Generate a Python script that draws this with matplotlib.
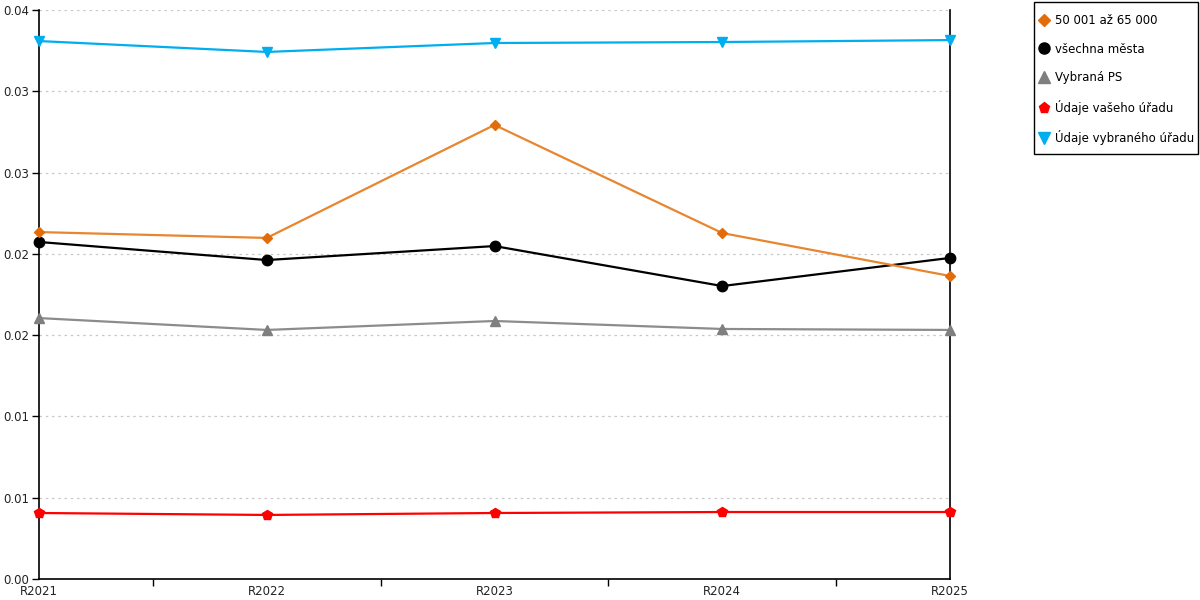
import matplotlib
matplotlib.use("Agg")
import matplotlib.pyplot as plt
from matplotlib.lines import Line2D
from matplotlib.patches import Rectangle
import numpy as np

categories = ["R2021", "R2022", "R2023", "R2024", "R2025"]
s_50001 = [0.02134, 0.02098, 0.02793, 0.02128, 0.01864]
s_vsechna = [0.02073, 0.01962, 0.02048, 0.01802, 0.01975]
s_ps = [0.01605, 0.01532, 0.01587, 0.01538, 0.01532]
s_vas = [0.00406, 0.00394, 0.00406, 0.00412, 0.00412]
s_vybrany = [0.03309, 0.03242, 0.03297, 0.03303, 0.03315]

names = ["50 001 až 65 000", "všechna města", "Vybraná PS", "Údaje vašeho úřadu", "Údaje vybraného úřadu"]
yticks = [0.0, 0.005, 0.01, 0.015, 0.02, 0.025, 0.03, 0.035]
ytick_labels = ["0.00", "0.01", "0.01", "0.02", "0.02", "0.03", "0.03", "0.04"]

series = [s_50001, s_vsechna, s_ps, s_vas, s_vybrany]
line_colors = ["#E8852F", "#000000", "#8C8C8C", "#FF0000", "#00AEEF"]
marker_colors = ["#E36C0A", "#000000", "#7F7F7F", "#FF0000", "#00AEEF"]
markers = ["D", "o", "^", "p", "v"]
msizes = [5.5, 7.5, 7.5, 7.5, 7.5]

fig = plt.figure(figsize=(12, 6), dpi=100)
ax = fig.add_axes([39/1200, 1-579/600, (950-39)/1200, (579-10)/600])
x = np.arange(len(categories))

order = [2, 3, 1, 0, 4]
for i in order:
    ax.plot(x, series[i], color=line_colors[i], lw=1.6, marker=markers[i],
            markersize=msizes[i], markerfacecolor=marker_colors[i],
            markeredgecolor=marker_colors[i], zorder=3, clip_on=False)

ax.set_xlim(0, len(categories)-1)
ax.set_ylim(0, 0.035)
ax.set_yticks(yticks)
ax.set_yticklabels(ytick_labels)
ax.set_xticks(x)
ax.set_xticklabels(categories)
ax.set_xticks(x[:-1] + 0.5, minor=True)
ax.tick_params(axis='x', which='major', length=0, pad=4, labelsize=8.5, colors='#222222')
ax.tick_params(axis='x', which='minor', length=5, width=1, color='black')
ax.tick_params(axis='y', length=5, width=1, labelsize=8.5, pad=2, colors='black', labelcolor='#222222')
ax.grid(axis='y', color='#C8C8C8', linestyle=(0, (2, 3)), lw=0.9)
ax.set_axisbelow(True)
for sp in ['left', 'bottom', 'right']:
    ax.spines[sp].set_color('black')
    ax.spines[sp].set_linewidth(1.2)
ax.spines['top'].set_visible(False)

# legend frame
fig.patches.append(Rectangle((1034/1200, 1-154/600), (1198-1034)/1200, (154-2)/600,
                             transform=fig.transFigure, fill=False, edgecolor='black', lw=1.0))
handles = [Line2D([], [], linestyle='none', marker=markers[i], markersize=(6 if i == 0 else 8),
                  markerfacecolor=marker_colors[i], markeredgecolor=marker_colors[i]) for i in range(5)]
leg = fig.legend(handles, names, loc='upper left', bbox_to_anchor=(1039/1200, 1-14/600),
                 frameon=False, fontsize=8.5, labelspacing=1.32, handlelength=0.8,
                 handletextpad=0.55, borderpad=0, borderaxespad=0)

fig.savefig("out.png", dpi=100)
